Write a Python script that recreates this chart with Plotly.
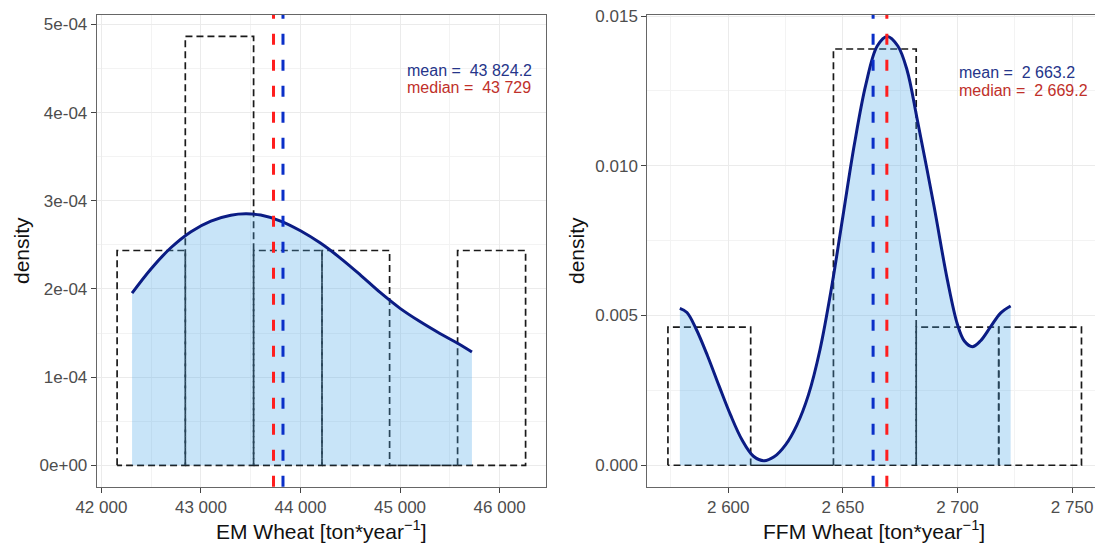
import plotly.graph_objects as go

# ---------------- data ----------------
em_bin_edges = [42158, 42843, 43529, 44216, 44895, 45578, 46261]
em_bin_density = [2.436e-4, 4.864e-4, 2.436e-4, 2.436e-4, 0.0, 2.436e-4]
em_kde_x = [42308, 42500, 42700, 42900, 43100, 43300, 43450, 43600, 43800, 44000,
            44200, 44400, 44600, 44800, 45000, 45200, 45400, 45600, 45722]
em_kde_y = [1.953e-4, 2.230e-4, 2.470e-4, 2.650e-4, 2.770e-4, 2.836e-4, 2.852e-4,
            2.838e-4, 2.770e-4, 2.660e-4, 2.520e-4, 2.350e-4, 2.160e-4, 1.960e-4,
            1.780e-4, 1.630e-4, 1.495e-4, 1.370e-4, 1.285e-4]
em_mean = 43824.2
em_median = 43729

ffm_bin_edges = [2573.7, 2609.8, 2645.9, 2682.0, 2718.0, 2754.1]
ffm_bin_density = [0.00461, 0.0, 0.0139, 0.00461, 0.00461]
ffm_kde_x = [2578.9, 2582, 2586, 2591, 2596, 2601, 2606, 2611, 2615.6, 2620, 2625,
             2630, 2635, 2640, 2645, 2650, 2655, 2660, 2665, 2669.4, 2674, 2678,
             2682.5, 2689.8, 2695.6, 2700, 2703, 2706.5, 2710, 2714.5, 2718.9, 2723.2]
ffm_kde_y = [0.00524, 0.00510, 0.00455, 0.00365, 0.00265, 0.00168, 0.00085, 0.00030,
             0.00015, 0.00028, 0.00068, 0.00135, 0.00235, 0.00385, 0.00590, 0.00830,
             0.01070, 0.01270, 0.01400, 0.01432, 0.01400, 0.01320, 0.01153, 0.00864,
             0.00619, 0.00470, 0.00415, 0.00396, 0.00415, 0.00463, 0.00509, 0.00532]
ffm_mean = 2663.2
ffm_median = 2669.2

em_xticks = [42000, 43000, 44000, 45000, 46000]
em_xticktext = ["42 000", "43 000", "44 000", "45 000", "46 000"]
em_yticks = [0, 1e-4, 2e-4, 3e-4, 4e-4, 5e-4]
em_yticktext = ["0e+00", "1e-04", "2e-04", "3e-04", "4e-04", "5e-04"]
ffm_xticks = [2600, 2650, 2700, 2750]
ffm_xticktext = ["2 600", "2 650", "2 700", "2 750"]
ffm_yticks = [0, 0.005, 0.010, 0.015]
ffm_yticktext = ["0.000", "0.005", "0.010", "0.015"]

em_text_mean = "mean =  43 824.2"
em_text_median = "median =  43 729"
ffm_text_mean = "mean =  2 663.2"
ffm_text_median = "median =  2 669.2"

# ---------------- styling ----------------
W, H = 1095, 545
FONT = "Liberation Sans, Arial, sans-serif"
HIST_COLOR = "#1a1a1a"
FILL = "rgba(72,165,232,0.30)"
CURVE = "#0b1c84"
MEAN_C = "#0a2fc8"
MED_C = "#ff1e1e"


def hist_path(edges, dens):
    xs, ys = [], []
    for i, d in enumerate(dens):
        x0, x1 = edges[i], edges[i + 1]
        xs += [x0, x0, x1, x1, x0, None]
        ys += [0, d, d, 0, 0, None]
    return xs, ys


fig = go.Figure()

panels = [
    dict(edges=em_bin_edges, dens=em_bin_density, kx=em_kde_x, ky=em_kde_y,
         mean=em_mean, med=em_median, xa="x", ya="y"),
    dict(edges=ffm_bin_edges, dens=ffm_bin_density, kx=ffm_kde_x, ky=ffm_kde_y,
         mean=ffm_mean, med=ffm_median, xa="x2", ya="y2"),
]

for p in panels:
    hx, hy = hist_path(p["edges"], p["dens"])
    fig.add_trace(go.Scatter(x=hx, y=hy, mode="lines", xaxis=p["xa"], yaxis=p["ya"],
                             line=dict(color=HIST_COLOR, width=1.7, dash="7px,4px"),
                             hoverinfo="skip", showlegend=False))
    fig.add_trace(go.Scatter(x=p["kx"], y=p["ky"], mode="lines", xaxis=p["xa"], yaxis=p["ya"],
                             fill="tozeroy", fillcolor=FILL,
                             line=dict(color=CURVE, width=3, shape="spline", smoothing=1.0),
                             showlegend=False))
    for val, col in ((p["med"], MED_C), (p["mean"], MEAN_C)):
        fig.add_shape(type="line", xref=p["xa"], yref=p["ya"] + " domain",
                      x0=val, x1=val, y0=0, y1=1,
                      line=dict(color=col, width=3, dash="11px,15px"), layer="above")

# axis domains (pixel-measured)
y_dom = [1 - 486.7 / H, 1 - 15 / H]
x1_dom = [96.7 / W, 546 / W]
x2_dom = [647.3 / W, 1.0]

common_axis = dict(
    automargin=False,
    showgrid=True, gridcolor="#EBEBEB", gridwidth=1.3,
    zeroline=False, showline=True, linecolor="#666666", linewidth=1,
    ticks="outside", ticklen=5, tickwidth=1, tickcolor="#444444",
    tickfont=dict(family=FONT, size=17, color="#4D4D4D"),
    tickmode="array",
)

fig.update_layout(
    width=W, height=H,
    margin=dict(l=0, r=0, t=0, b=0, autoexpand=False),
    paper_bgcolor="white", plot_bgcolor="white",
    font=dict(family=FONT),
    showlegend=False,
    xaxis=dict(common_axis, domain=x1_dom, range=[41953, 46466], anchor="y",
               tickvals=em_xticks, ticktext=em_xticktext, mirror=True,
               minor=dict(tick0=42500, dtick=1000, showgrid=True, gridcolor="#F3F3F3", gridwidth=1, ticks="")),
    yaxis=dict(common_axis, domain=y_dom, range=[-2.43e-5, 5.107e-4], anchor="x",
               tickvals=em_yticks, ticktext=em_yticktext, mirror=True,
               minor=dict(tick0=0.5e-4, dtick=1e-4, showgrid=True, gridcolor="#F3F3F3", gridwidth=1, ticks="")),
    xaxis2=dict(common_axis, domain=x2_dom, range=[2564.7, 2760.0], anchor="y2",
                tickvals=ffm_xticks, ticktext=ffm_xticktext, mirror=True,
                minor=dict(tick0=2575, dtick=50, showgrid=True, gridcolor="#F3F3F3", gridwidth=1, ticks="")),
    yaxis2=dict(common_axis, domain=y_dom, range=[-0.000716, 0.015036], anchor="x2",
                tickvals=ffm_yticks, ticktext=ffm_yticktext, mirror=False,
                minor=dict(tick0=0.0025, dtick=0.005, showgrid=True, gridcolor="#F3F3F3", gridwidth=1, ticks="")),
)

ann = []
TITLE_FONT = dict(family=FONT, size=21, color="#111111")
ann.append(dict(text="EM Wheat [ton*year<sup>\u22121</sup>]", x=321 / W, y=0,
                xref="paper", yref="paper", showarrow=False, xanchor="center", yanchor="bottom",
                font=TITLE_FONT))
ann.append(dict(text="FFM Wheat [ton*year<sup>\u22121</sup>]", x=874 / W, y=0,
                xref="paper", yref="paper", showarrow=False, xanchor="center", yanchor="bottom",
                font=TITLE_FONT))
for xp in (21, 576):
    ann.append(dict(text="density", x=xp / W, y=1 - 251 / H, xref="paper", yref="paper",
                    showarrow=False, textangle=-90, xanchor="center", yanchor="middle",
                    font=TITLE_FONT))

TXT = dict(family=FONT, size=16)
ann.append(dict(text=em_text_mean, x=405 / W, y=1 - 70 / H, xref="paper", yref="paper",
                showarrow=False, xanchor="left", yanchor="middle", font=dict(TXT, color="#25358a")))
ann.append(dict(text=em_text_median, x=405 / W, y=1 - 87.5 / H, xref="paper", yref="paper",
                showarrow=False, xanchor="left", yanchor="middle", font=dict(TXT, color="#c0302a")))
ann.append(dict(text=ffm_text_mean, x=957.3 / W, y=1 - 73 / H, xref="paper", yref="paper",
                showarrow=False, xanchor="left", yanchor="middle", font=dict(TXT, color="#25358a")))
ann.append(dict(text=ffm_text_median, x=957.3 / W, y=1 - 90.5 / H, xref="paper", yref="paper",
                showarrow=False, xanchor="left", yanchor="middle", font=dict(TXT, color="#c0302a")))
fig.update_layout(annotations=ann)

fig.write_html("out.html")
